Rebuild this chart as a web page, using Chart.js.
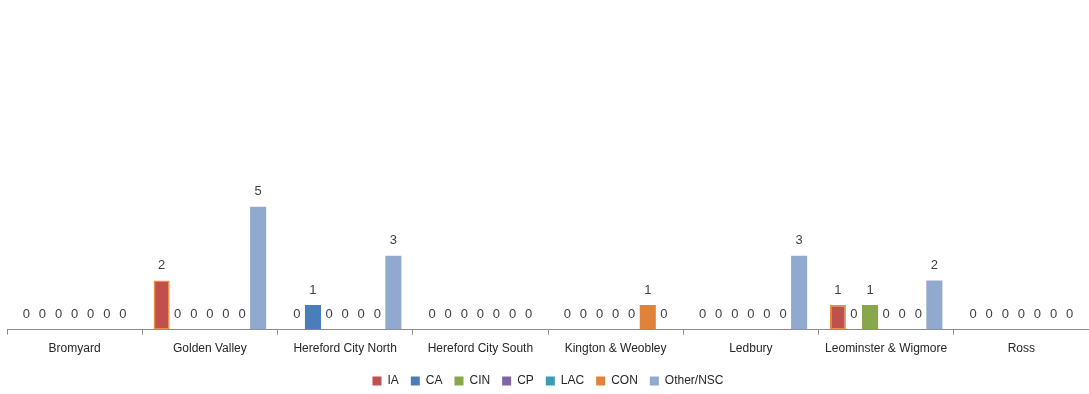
<!DOCTYPE html>
<html>
<head>
<meta charset="utf-8">
<script src="https://cdn.jsdelivr.net/npm/chart.js@4/dist/chart.umd.min.js"></script>
<style>
  html, body { margin: 0; padding: 0; background: #ffffff; }
  #wrap { width: 1089px; height: 394px; }
</style>
</head>
<body>
<div id="wrap"><canvas id="chart" width="1089" height="394"></canvas></div>
<script>
// Localities shown along the x axis
const localities = ['Bromyard', 'Golden Valley', 'Hereford City North', 'Hereford City South',
  'Kington & Weobley', 'Ledbury', 'Leominster & Wigmore', 'Ross'];

// Counts per category for each locality
const seriesNames = ['IA', 'CA', 'CIN', 'CP', 'LAC', 'CON', 'Other/NSC'];
const iaValues    = [0, 2, 0, 0, 0, 0, 1, 0];
const caValues    = [0, 0, 1, 0, 0, 0, 0, 0];
const cinValues   = [0, 0, 0, 0, 0, 0, 1, 0];
const cpValues    = [0, 0, 0, 0, 0, 0, 0, 0];
const lacValues   = [0, 0, 0, 0, 0, 0, 0, 0];
const conValues   = [0, 0, 0, 0, 1, 0, 0, 0];
const otherValues = [0, 5, 3, 0, 0, 3, 2, 0];

const seriesColours = ['#C0504D', '#4A7EBB', '#88A64A', '#7E64A0', '#3C9AB4', '#E0823A', '#92A9CF'];

const allValues = [iaValues, caValues, cinValues, cpValues, lacValues, conValues, otherValues];

const datasets = seriesNames.map((name, i) => ({
  label: name,
  data: allValues[i],
  backgroundColor: seriesColours[i],
  borderColor: i === 0 ? '#F08A3C' : seriesColours[i],
  borderWidth: i === 0
    ? (ctx => (ctx.type === 'data' && ctx.raw === 0) ? 0 : 1.5)
    : 0,
  borderSkipped: false
}));

// Writes each bar's value just above its top
const valueLabels = {
  id: 'valueLabels',
  afterDatasetsDraw(chart) {
    const ctx = chart.ctx;
    ctx.save();
    ctx.font = '13px "Liberation Sans", Arial, sans-serif';
    ctx.fillStyle = '#404040';
    ctx.textAlign = 'center';
    ctx.textBaseline = 'middle';
    chart.data.datasets.forEach((ds, di) => {
      const meta = chart.getDatasetMeta(di);
      meta.data.forEach((bar, idx) => {
        const v = ds.data[idx];
        ctx.fillText(String(v), bar.x, bar.y - 15);
      });
    });
    ctx.restore();
  }
};

new Chart(document.getElementById('chart'), {
  type: 'bar',
  data: { labels: localities, datasets },
  options: {
    responsive: false,
    animation: false,
    devicePixelRatio: 1,
    layout: { padding: { left: 7, right: 0, top: 10, bottom: -3 } },
    datasets: {
      bar: { categoryPercentage: 0.832, barPercentage: 1.0 }
    },
    scales: {
      x: {
        offset: true,
        grid: {
          display: true,
          offset: true,
          drawOnChartArea: false,
          drawTicks: true,
          tickLength: 5,
          color: '#8C8C8C'
        },
        border: { display: true, color: '#8C8C8C', width: 1 },
        ticks: {
          autoSkip: false,
          maxRotation: 0,
          padding: 7,
          color: '#262626',
          font: { family: '"Liberation Sans", Arial, sans-serif', size: 12 }
        }
      },
      y: {
        display: false,
        min: 0,
        max: 13
      }
    },
    plugins: {
      legend: {
        position: 'bottom',
        labels: {
          boxWidth: 9,
          boxHeight: 9,
          padding: 12,
          color: '#262626',
          font: { family: '"Liberation Sans", Arial, sans-serif', size: 12 }
        }
      },
      tooltip: { enabled: false }
    }
  },
  plugins: [valueLabels]
});
</script>
</body>
</html>
